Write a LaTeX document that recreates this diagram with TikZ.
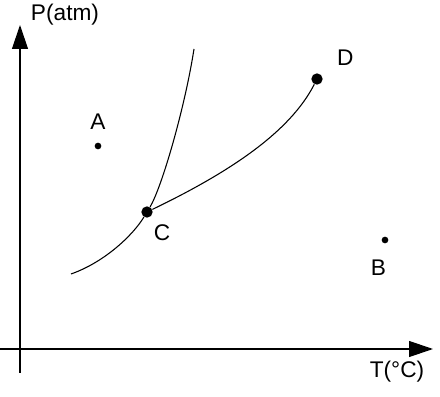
\documentclass[tikz,border=0pt]{standalone}
\usepackage{fontspec}
\setmainfont{Liberation Sans}
\usetikzlibrary{arrows.meta, positioning}

\begin{document}
\begin{tikzpicture}[
x=0.75pt, y=0.75pt,
every node/.style={font=\fontsize{17}{20}\selectfont},
axis/.style={-{Triangle[length=18pt, width=12pt]}, line width=0.9pt},
curve/.style={line width=0.8pt},
dot/.style={circle, fill, inner sep=0pt, minimum size=5pt},
bigdot/.style={circle, fill, inner sep=0pt, minimum size=8.5pt}
]
\useasboundingbox (0,0) rectangle (440,397);

% axes
\coordinate (yfoot) at (20,24);
\coordinate (ytip) at (20,372);
\coordinate (xfoot) at (0,48);
\coordinate (xtip) at (433,48);
\draw[axis] (yfoot) -- (ytip);
\draw[axis] (xfoot) -- (xtip);
\node (plabel) at (65,382) {P(atm)};
\node (tlabel) at (397,25) {T(°C)};

% points
\node[dot] (A) at (98,251) {};
\node[bigdot] (C) at (147,185) {};
\node[bigdot] (D) at (317,318) {};
\node[dot] (B) at (385,157) {};
\node[above=6pt of A] (lblA) {A};
\node[below right=2.5pt and -1.5pt of C] (lblC) {C};
\node[above right=3.2pt and 8.5pt of D] (lblD) {D};
\node[below=9pt of B, xshift=-5pt] (lblB) {B};

% curves
\coordinate (low) at (71,123);
\coordinate (high) at (194,348);
\draw[curve] (low) .. controls (105,135) and (133,162) .. (C);
\draw[curve] (C) .. controls (162,210) and (185,290) .. (high);
\draw[curve] (C) .. controls (230,225) and (290,265) .. (D);

\end{tikzpicture}
\end{document}
